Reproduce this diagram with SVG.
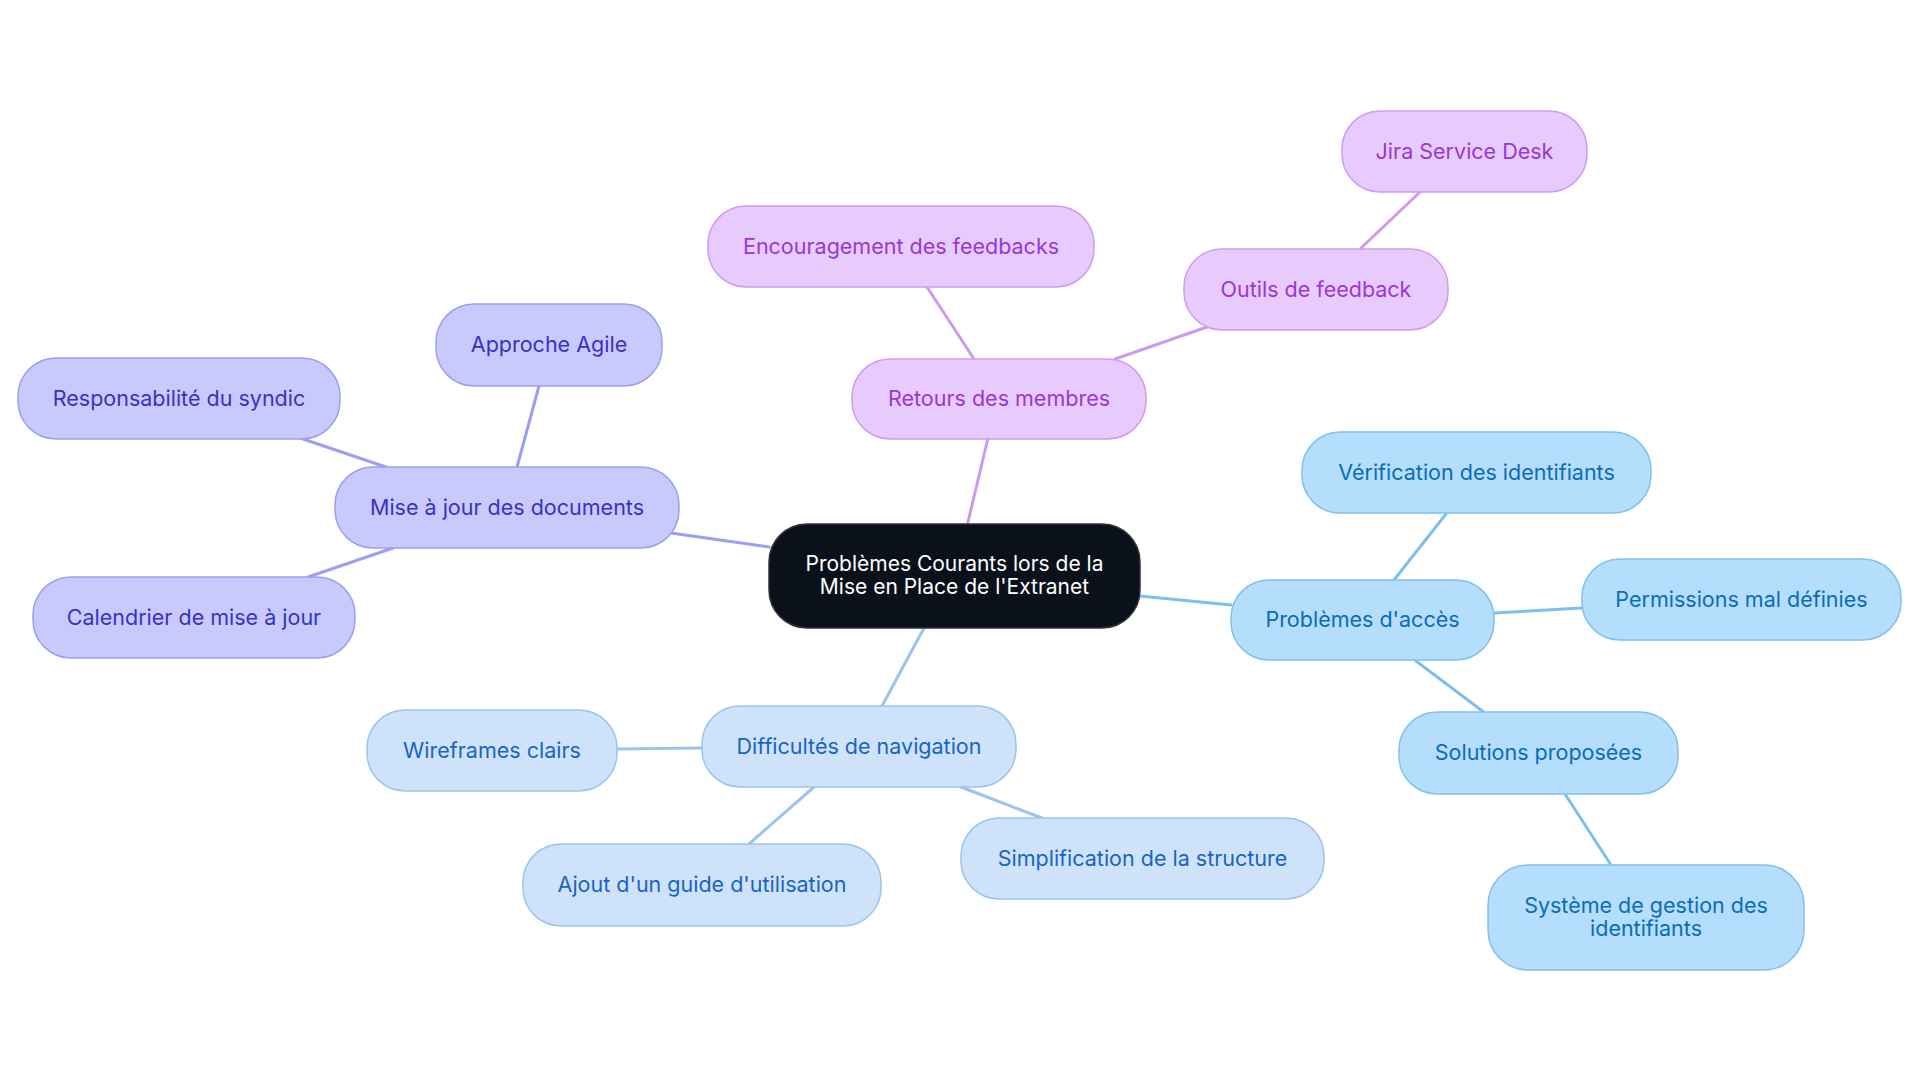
<svg xmlns="http://www.w3.org/2000/svg" width="1920" height="1083" viewBox="0 0 1920 1083">
<style>
text{font-family:Inter,"Noto Sans","Liberation Sans",sans-serif;font-size:21.5px;text-anchor:middle}
.c rect{fill:#0b111a;stroke:#2e333a;stroke-width:1.5}
.c text{fill:#ffffff;font-size:21px}
.p rect{fill:#e8cbfd;stroke:#cf9bf3;stroke-width:1.5}
.p text{fill:#9a36d8}
.i rect{fill:#c8cafc;stroke:#9c9ff2;stroke-width:1.5}
.i text{fill:#3632c8}
.b rect{fill:#b4defc;stroke:#7fc1ef;stroke-width:1.5}
.b text{fill:#0b6cb9}
.l rect{fill:#cee3fa;stroke:#9bc4ee;stroke-width:1.5}
.l text{fill:#1a63c6}
#connectors line{stroke-width:3;stroke-linecap:round}
.lp{stroke:#cd9af2}.li{stroke:#9c9ef1}.lb{stroke:#7dc0ee}.ll{stroke:#9cc3ee}
</style>
<rect width="1920" height="1083" fill="#ffffff"/>
<g id="connectors">
<line class="lp" x1="967" y1="526" x2="988" y2="438"/>
<line class="lp" x1="974" y1="359" x2="927" y2="287"/>
<line class="lp" x1="1115" y1="359" x2="1207" y2="327"/>
<line class="lp" x1="1360" y1="249" x2="1420" y2="192"/>
<line class="li" x1="769" y1="547" x2="671" y2="533"/>
<line class="li" x1="517" y1="467" x2="539" y2="386"/>
<line class="li" x1="386" y1="467" x2="303" y2="439"/>
<line class="li" x1="393" y1="548" x2="308" y2="577"/>
<line class="lb" x1="1140" y1="596" x2="1231" y2="605"/>
<line class="lb" x1="1394" y1="580" x2="1446" y2="514"/>
<line class="lb" x1="1494" y1="613" x2="1582" y2="608"/>
<line class="lb" x1="1416" y1="661" x2="1485" y2="713"/>
<line class="lb" x1="1565" y1="794" x2="1611" y2="865"/>
<line class="ll" x1="924" y1="628" x2="882" y2="706"/>
<line class="ll" x1="617" y1="749" x2="702" y2="748"/>
<line class="ll" x1="814" y1="787" x2="749" y2="844"/>
<line class="ll" x1="961" y1="787" x2="1042" y2="818"/>
</g>
<g id="root" class="c"><rect x="769" y="524" width="371" height="104" rx="38"/><text x="954.5" y="570.5">Problèmes Courants lors de la</text><text x="954.5" y="594">Mise en Place de l'Extranet</text></g>
<g id="retours" class="p"><rect x="852" y="359" width="294" height="80" rx="38"/><text x="999" y="405.5">Retours des membres</text></g>
<g id="encouragement" class="p"><rect x="708" y="206" width="386" height="81" rx="38"/><text x="901" y="253.5">Encouragement des feedbacks</text></g>
<g id="outils" class="p"><rect x="1184" y="249" width="264" height="81" rx="38"/><text x="1316" y="296.5">Outils de feedback</text></g>
<g id="jira" class="p"><rect x="1342" y="111" width="245" height="81" rx="38"/><text x="1464.5" y="158.5">Jira Service Desk</text></g>
<g id="mise" class="i"><rect x="335" y="467" width="344" height="81" rx="38"/><text x="507" y="514.5">Mise à jour des documents</text></g>
<g id="approche" class="i"><rect x="436" y="304" width="226" height="82" rx="38"/><text x="549" y="352">Approche Agile</text></g>
<g id="responsabilite" class="i"><rect x="18" y="358" width="322" height="81" rx="38"/><text x="179" y="405.5">Responsabilité du syndic</text></g>
<g id="calendrier" class="i"><rect x="33" y="577" width="322" height="81" rx="38"/><text x="194" y="624.5">Calendrier de mise à jour</text></g>
<g id="acces" class="b"><rect x="1231" y="580" width="263" height="80" rx="38"/><text x="1362.5" y="627">Problèmes d'accès</text></g>
<g id="verification" class="b"><rect x="1302" y="432" width="349" height="81" rx="38"/><text x="1476.5" y="479.5">Vérification des identifiants</text></g>
<g id="permissions" class="b"><rect x="1582" y="559" width="319" height="81" rx="38"/><text x="1741.5" y="606.5">Permissions mal définies</text></g>
<g id="solutions" class="b"><rect x="1399" y="712" width="279" height="82" rx="38"/><text x="1538.5" y="760">Solutions proposées</text></g>
<g id="systeme" class="b"><rect x="1488" y="865" width="316" height="105" rx="40"/><text x="1646" y="912.5">Système de gestion des</text><text x="1646" y="936">identifiants</text></g>
<g id="navigation" class="l"><rect x="702" y="706" width="314" height="81" rx="38"/><text x="859" y="753.5">Difficultés de navigation</text></g>
<g id="wireframes" class="l"><rect x="367" y="710" width="250" height="81" rx="38"/><text x="492" y="757.5">Wireframes clairs</text></g>
<g id="guide" class="l"><rect x="523" y="844" width="358" height="82" rx="38"/><text x="702" y="892">Ajout d'un guide d'utilisation</text></g>
<g id="simplification" class="l"><rect x="961" y="818" width="363" height="81" rx="38"/><text x="1142.5" y="865.5">Simplification de la structure</text></g>
</svg>
